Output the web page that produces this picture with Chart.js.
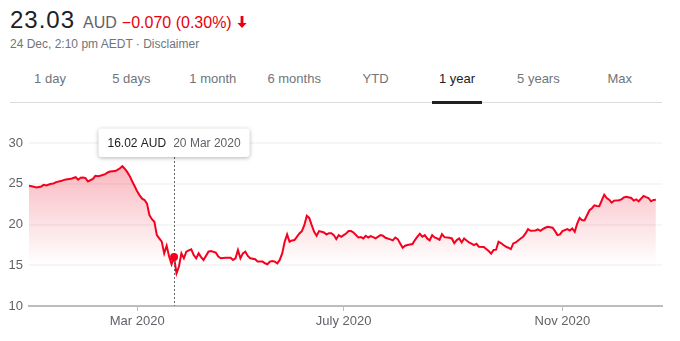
<!DOCTYPE html>
<html>
<head>
<meta charset="utf-8">
<script src="https://cdn.jsdelivr.net/npm/chart.js@4.4.1/dist/chart.umd.min.js"></script>
<style>
  html, body { margin: 0; padding: 0; background: #fff; }
  body { width: 680px; height: 341px; position: relative; overflow: hidden;
         font-family: "Liberation Sans", Arial, sans-serif; }
  #quote { position: absolute; left: 10px; top: 6px; display: flex; align-items: baseline; white-space: nowrap; }
  #price { font-size: 24px; color: #202124; letter-spacing: 1px; }
  #cur { font-size: 16px; color: #5f6368; margin-left: 8px; }
  #change { font-size: 16px; color: #e8000b; margin-left: 5px; }
  #arrow { margin-left: 5px; }
  #stamp { position: absolute; left: 10px; top: 37px; font-size: 12px; color: #70757a; white-space: nowrap; }
  .tab { position: absolute; top: 71px; width: 80px; text-align: center; font-size: 13px; color: #70757a; }
  .tab.on { color: #202124; }
  #rule { position: absolute; left: 10px; top: 102px; width: 652px; height: 1px; background: #dadce0; }
  #ul { position: absolute; left: 432px; top: 101px; width: 50px; height: 3px; background: #202124; }
  #wrap { position: absolute; left: 0; top: 120px; width: 680px; height: 221px; }
</style>
</head>
<body>
<div id="quote">
  <span id="price">23.03</span><span id="cur">AUD</span><span id="change">−0.070 (0.30%)</span>
  <svg id="arrow" width="10" height="12" viewBox="0 0 10 12"><path d="M3.6 0h2.8v7h3.2L5 12 0.4 7h3.2z" fill="#e8000b"/></svg>
</div>
<div id="stamp">24 Dec, 2:10 pm AEDT · Disclaimer</div>
<div id="tabs"></div>
<div id="rule"></div>
<div id="ul"></div>
<div id="wrap"><canvas id="chart"></canvas></div>

<script>
// ranges shown in the tab strip
const ranges = ['1 day', '5 days', '1 month', '6 months', 'YTD', '1 year', '5 years', 'Max'];
const activeRange = '1 year';

// closing prices, x = trading day since 24 Dec 2019
const tradingDays = [0, 2, 3, 5, 6, 7, 9, 10, 11, 13,
  14, 15, 17, 18, 19, 20, 21, 22, 23, 24,
  26, 27, 28, 29, 31, 32, 33, 35, 36, 37,
  38, 39, 40, 41, 42, 43, 44, 45, 46, 47,
  48, 49, 50, 51, 52, 53, 54, 55, 56, 57,
  58, 59, 60, 61, 62, 63, 64, 65, 66, 67,
  68, 69, 70, 71, 73, 74, 76, 77, 78, 80,
  82, 83, 84, 85, 86, 87, 88, 89, 90, 92,
  93, 95, 96, 97, 98, 99, 100, 101, 102, 103,
  104, 105, 106, 107, 108, 110, 111, 112, 113, 114,
  115, 116, 117, 118, 119, 120, 121, 122, 123, 124,
  125, 126, 127, 128, 129, 130, 131, 132, 134, 135,
  136, 137, 138, 139, 140, 141, 143, 144, 145, 147,
  148, 149, 150, 151, 152, 153, 154, 156, 157, 158,
  159, 160, 161, 162, 163, 164, 165, 166, 167, 168,
  169, 171, 172, 173, 174, 175, 176, 177, 179, 180,
  181, 182, 183, 185, 186, 187, 188, 189, 190, 191,
  192, 193, 194, 195, 196, 197, 198, 200, 201, 202,
  203, 204, 206, 207, 208, 209, 210, 211, 213, 214,
  215, 216, 217, 219, 220, 221, 222, 223, 224, 225,
  226, 227, 228, 229, 230, 231, 232, 233, 234, 235,
  236, 237, 238, 240, 241, 242, 243, 245, 246, 247,
  248, 249, 250, 251, 252, 253, 254, 255];

const closePrices = [24.76, 24.63, 24.55, 24.67, 24.88, 24.80, 25.00, 25.04, 25.20, 25.33,
  25.45, 25.53, 25.60, 25.70, 25.80, 25.50, 25.73, 25.77, 25.70, 25.28,
  25.60, 25.98, 25.93, 25.98, 26.18, 26.38, 26.50, 26.55, 26.70, 26.90,
  27.15, 26.83, 26.42, 25.93, 25.28, 24.70, 24.07, 23.58, 23.17, 23.00,
  22.56, 21.14, 20.65, 20.33, 18.70, 18.30, 17.90, 16.46, 17.40, 16.06,
  15.12, 16.02, 14.00, 14.84, 16.46, 15.85, 16.67, 16.83, 16.95, 16.26,
  15.85, 16.46, 16.00, 15.65, 16.67, 16.75, 16.55, 16.06, 15.85, 15.93,
  15.93, 15.65, 15.85, 16.87, 15.85, 16.46, 16.67, 16.14, 15.85, 15.73,
  15.45, 15.45, 15.24, 15.12, 15.45, 15.53, 15.45, 15.24, 15.65, 16.46,
  17.89, 18.78, 17.89, 18.05, 18.09, 18.90, 19.19, 19.92, 21.06, 20.81,
  19.92, 19.11, 18.62, 19.19, 19.11, 19.02, 18.78, 18.94, 18.94, 18.70,
  18.21, 18.70, 18.50, 18.70, 18.90, 19.19, 19.19, 19.02, 18.41, 18.45,
  18.29, 18.62, 18.41, 18.58, 18.45, 18.29, 18.70, 18.62, 18.37, 18.17,
  18.05, 18.41, 18.21, 17.68, 17.15, 17.40, 17.48, 17.60, 18.09, 18.50,
  18.86, 18.50, 18.70, 18.29, 18.05, 18.70, 18.41, 18.29, 18.13, 18.82,
  18.45, 18.37, 18.29, 17.72, 18.09, 18.29, 17.80, 18.29, 17.80, 17.64,
  17.48, 17.64, 17.28, 17.24, 16.99, 16.75, 16.42, 16.87, 16.91, 17.89,
  17.72, 17.48, 17.28, 17.15, 16.99, 17.68, 17.80, 18.29, 18.50, 18.90,
  19.43, 19.23, 19.27, 19.39, 19.23, 19.43, 19.60, 19.72, 19.60, 19.19,
  18.70, 18.78, 19.19, 19.43, 19.27, 19.51, 19.11, 20.12, 20.81, 20.53,
  20.53, 21.14, 21.75, 22.00, 22.36, 22.28, 22.24, 22.97, 23.66, 23.25,
  23.05, 22.68, 22.93, 22.97, 23.09, 23.33, 23.41, 23.25, 22.93, 23.09,
  22.85, 23.17, 23.50, 23.35, 23.25, 22.85, 23.01, 23.03];

// axis labels
const tickDays = [44, 128, 217];
const tickLabels = ['Mar 2020', 'July 2020', 'Nov 2020'];
const yTicks = [10, 15, 20, 25, 30];

// hovered point
const hoverDay = 59;
const hoverDate = '20 Mar 2020';
const currency = 'AUD';

// build tab strip
const tabs = document.getElementById('tabs');
ranges.forEach((r, i) => {
  const d = document.createElement('div');
  d.className = 'tab' + (r === activeRange ? ' on' : '');
  d.style.left = (10 + i * 81.4) + 'px';
  d.textContent = r;
  tabs.appendChild(d);
});

const FONT = '"Liberation Sans", Arial, sans-serif';
const RED = 'rgb(245, 0, 30)';

// draws the hover marker and the little tooltip box
const hoverPlugin = {
  id: 'hover',
  afterDatasetsDraw(chart) {
    const i = tradingDays.indexOf(hoverDay);
    const pt = chart.getDatasetMeta(0).data[i];
    if (!pt) return;
    const ctx = chart.ctx;
    const area = chart.chartArea;
    const boxTop = 8.5, boxH = 28.5;

    ctx.save();
    ctx.strokeStyle = '#666';
    ctx.lineWidth = 1;
    ctx.setLineDash([2, 2]);
    ctx.beginPath();
    ctx.moveTo(Math.round(pt.x) + 0.5, boxTop + boxH);
    ctx.lineTo(Math.round(pt.x) + 0.5, area.bottom);
    ctx.stroke();
    ctx.setLineDash([]);

    ctx.fillStyle = RED;
    ctx.beginPath();
    ctx.arc(pt.x, pt.y, 4, 0, Math.PI * 2);
    ctx.fill();

    ctx.font = '12px ' + FONT;
    const t1 = closePrices[i].toFixed(2) + ' ' + currency;
    const w1 = ctx.measureText(t1).width;
    const w2 = ctx.measureText(hoverDate).width;
    const gap = 7, pad = 9;
    const boxW = pad * 2 + w1 + gap + w2;
    const bx = pt.x - boxW / 2;

    ctx.shadowColor = 'rgba(0,0,0,0.3)';
    ctx.shadowBlur = 4;
    ctx.shadowOffsetY = 1;
    ctx.fillStyle = '#fff';
    ctx.beginPath();
    ctx.roundRect(bx, boxTop, boxW, boxH, 3);
    ctx.fill();
    ctx.shadowColor = 'transparent';

    ctx.textBaseline = 'middle';
    ctx.fillStyle = '#202124';
    ctx.fillText(t1, bx + pad, boxTop + boxH / 2 + 1);
    ctx.fillStyle = '#5f6368';
    ctx.fillText(hoverDate, bx + pad + w1 + gap, boxTop + boxH / 2 + 1);
    ctx.restore();
  }
};

const ctx = document.getElementById('chart').getContext('2d');
const chart = new Chart(ctx, {
  type: 'line',
  data: {
    datasets: [{
      data: tradingDays.map((d, i) => ({ x: d, y: closePrices[i] })),
      borderColor: RED,
      borderWidth: 2,
      pointRadius: 0,
      tension: 0,
      fill: { value: 15 },
      backgroundColor: (c) => {
        const ch = c.chart;
        if (!ch.chartArea) return 'rgba(245,0,30,0.15)';
        const y = ch.scales.y;
        const g = ch.ctx.createLinearGradient(0, y.getPixelForValue(29), 0, y.getPixelForValue(15));
        g.addColorStop(0, 'rgba(235, 0, 30, 0.32)');
        g.addColorStop(1, 'rgba(235, 0, 30, 0.0)');
        return g;
      }
    }]
  },
  options: {
    responsive: true,
    maintainAspectRatio: false,
    animation: false,
    layout: { padding: { top: 23, right: 18, left: 0, bottom: 0 } },
    plugins: { legend: { display: false }, tooltip: { enabled: false } },
    scales: {
      x: {
        type: 'linear',
        min: 0,
        max: 257.5,
        afterBuildTicks: (s) => { s.ticks = tickDays.map(v => ({ value: v })); },
        afterFit: (s) => { s.height = 35; },
        ticks: {
          autoSkip: false,
          maxRotation: 0,
          padding: 3,
          color: '#5f6368',
          font: { family: FONT, size: 13 },
          callback: (v) => tickLabels[tickDays.indexOf(v)]
        },
        grid: { drawOnChartArea: false, drawTicks: true, tickLength: 5, color: '#bdbdbd', lineWidth: 1 },
        border: { color: '#bdbdbd', width: 2 }
      },
      y: {
        min: 10,
        max: 30,
        afterBuildTicks: (s) => { s.ticks = yTicks.map(v => ({ value: v })); },
        afterFit: (s) => { s.width = 29; },
        ticks: {
          padding: 6,
          color: '#5f6368',
          font: { family: FONT, size: 13 }
        },
        grid: {
          drawTicks: false,
          lineWidth: 2,
          color: (c) => c.tick && c.tick.value === 10 ? 'transparent' : '#f6f6f6'
        },
        border: { display: false }
      }
    }
  },
  plugins: [hoverPlugin]
});
</script>
</body>
</html>
